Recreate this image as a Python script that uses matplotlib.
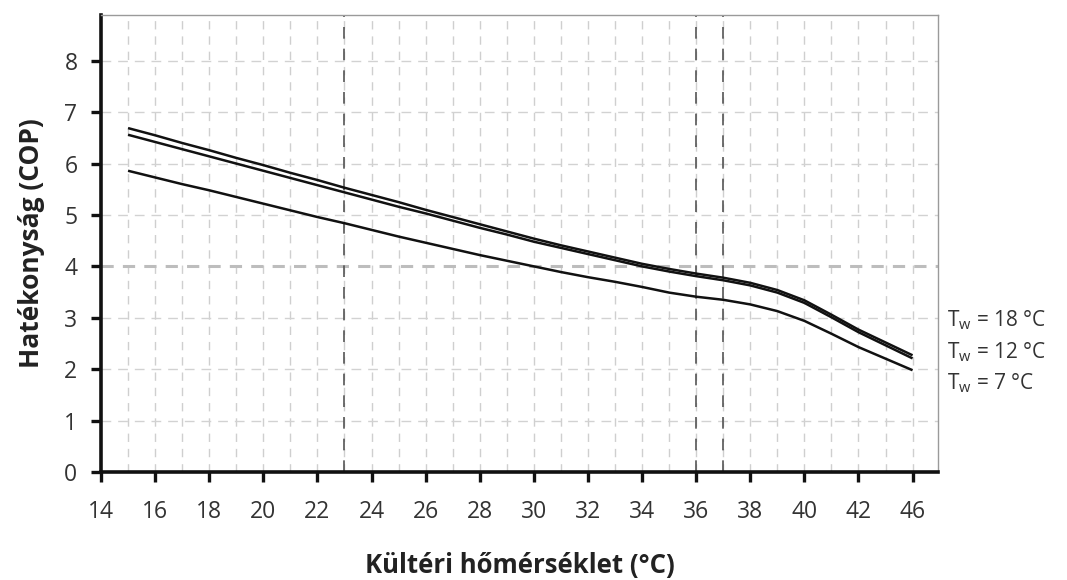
import numpy as np
import matplotlib
matplotlib.use("Agg")
import matplotlib.pyplot as plt
from matplotlib.transforms import blended_transform_factory

plt.rcParams['font.family'] = ['Open Sans', 'DejaVu Sans']
plt.rcParams['mathtext.default'] = 'regular'

# Outdoor temperature axis: evenly spaced category ticks (42 is followed by 46)
tick_temps = [14, 16, 18, 20, 22, 24, 26, 28, 30, 32, 34, 36, 38, 40, 42, 46]
tick_labels = [str(t) for t in tick_temps]

# Sampled outdoor temperatures for the COP curves
temps = [15, 16, 17, 18, 19, 20, 21, 22, 23, 24, 25, 26, 27, 28, 29, 30,
         31, 32, 33, 34, 35, 36, 37, 38, 39, 40, 41, 42, 46]

cop_tw18 = [6.69, 6.55, 6.40, 6.26, 6.11, 5.97, 5.82, 5.68, 5.53, 5.39, 5.25,
            5.10, 4.96, 4.82, 4.68, 4.54, 4.41, 4.29, 4.17, 4.05, 3.95, 3.86,
            3.78, 3.68, 3.54, 3.34, 3.06, 2.77, 2.27]
cop_tw12 = [6.56, 6.42, 6.28, 6.14, 6.00, 5.86, 5.72, 5.58, 5.44, 5.30, 5.16,
            5.03, 4.89, 4.75, 4.62, 4.48, 4.36, 4.24, 4.12, 4.00, 3.90, 3.81,
            3.73, 3.63, 3.49, 3.29, 3.01, 2.72, 2.21]
cop_tw7 = [5.86, 5.73, 5.60, 5.48, 5.35, 5.22, 5.09, 4.96, 4.84, 4.71, 4.58,
           4.46, 4.34, 4.22, 4.11, 4.00, 3.89, 3.79, 3.70, 3.60, 3.49, 3.41,
           3.35, 3.26, 3.13, 2.94, 2.69, 2.43, 1.98]

series_labels = ['18', '12', '7']
label_y = [2.96, 2.33, 1.73]

y_ticks = [0, 1, 2, 3, 4, 5, 6, 7, 8]
marker_temps = [23, 36, 37]

# Map temperature to evenly spaced tick positions
anchor_t = np.array(tick_temps + [50], dtype=float)
anchor_p = np.arange(len(anchor_t), dtype=float)


def fwd(x):
    return np.interp(x, anchor_t, anchor_p)


def inv(p):
    return np.interp(p, anchor_p, anchor_t)


fig = plt.figure(figsize=(10.67, 5.80), dpi=100)
ax = fig.add_axes([101 / 1067, 1 - 472 / 580, (938 - 101) / 1067, (472 - 15) / 580])
ax.set_xscale('function', functions=(fwd, inv))
ax.set_xlim(14, inv(15.47))
ax.set_ylim(0, 8.89)

# Background grid: every half step vertically, every unit horizontally
grid_x = [float(inv(p)) for p in np.arange(0.5, 15.01, 0.5)]
for gx in grid_x:
    ax.axvline(gx, color='#cfcfcf', lw=1.0, ls=(0, (6, 5)), zorder=1)
for gy in y_ticks[1:]:
    if gy == 4:
        continue
    ax.axhline(gy, color='#d2d2d2', lw=1.0, ls=(0, (7, 5)), zorder=1)
ax.axhline(4, color='#bdbdbd', lw=2.2, ls=(0, (4, 3)), zorder=1)

for mt in marker_temps:
    ax.axvline(mt, color='#555555', lw=1.2, ls=(0, (7, 6)), zorder=2)

for vals in (cop_tw18, cop_tw12, cop_tw7):
    ax.plot(temps, vals, color='#111111', lw=1.8, solid_capstyle='butt',
            solid_joinstyle='round', zorder=3)

ax.set_xticks(tick_temps)
ax.set_xticklabels(tick_labels)
ax.set_yticks(y_ticks)
ax.minorticks_off()
ax.tick_params(axis='both', direction='out', length=7, width=2.4, color='#111111',
               labelsize=16.5, labelcolor='#333333')
ax.tick_params(axis='x', pad=13)
ax.tick_params(axis='y', pad=10)

for side in ('left', 'bottom'):
    ax.spines[side].set_linewidth(2.6)
    ax.spines[side].set_color('#111111')
for side in ('top', 'right'):
    ax.spines[side].set_linewidth(1.0)
    ax.spines[side].set_color('#9a9a9a')

ax.set_ylabel('Hatékonyság (COP)', fontsize=19, fontweight='bold', color='#222222',
              va='center')
ax.yaxis.set_label_coords(-0.083, 0.5)
ax.set_xlabel('Kültéri hőmérséklet (°C)', fontsize=18.5, fontweight='bold',
              color='#222222', va='center')
ax.xaxis.set_label_coords(0.5, -0.205)

trans = blended_transform_factory(ax.transAxes, ax.transData)
for lab, ly in zip(series_labels, label_y):
    ax.text(1.011, ly, r'T$_w$ = ' + lab + ' °C', transform=trans, fontsize=15,
            color='#333333', va='center', ha='left', clip_on=False)

fig.savefig('out.png', dpi=100)
